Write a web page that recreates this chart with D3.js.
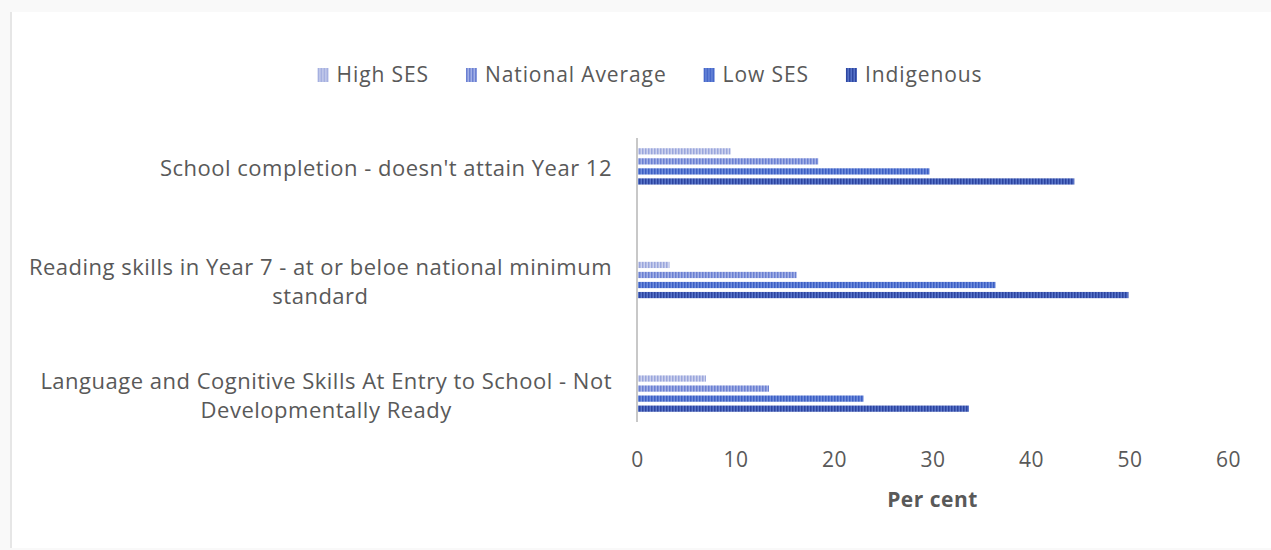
<!DOCTYPE html>
<html>
<head>
<meta charset="utf-8">
<script src="https://cdn.jsdelivr.net/npm/d3@7"></script>
<style>
  html, body { margin: 0; padding: 0; background: #f9f9f9; }
  svg { display: block; }
</style>
</head>
<body>
<script>
const categories = [
  "School completion - doesn't attain Year 12",
  "Reading skills in Year 7 - at or beloe national minimum standard",
  "Language and Cognitive Skills At Entry to School - Not Developmentally Ready"
];
const categoryLines = [
  ["School completion - doesn't attain Year 12"],
  ["Reading skills in Year 7 - at or beloe national minimum", "standard"],
  ["Language and Cognitive Skills At Entry to School - Not", "Developmentally Ready"]
];
const seriesNames = ["High SES", "National Average", "Low SES", "Indigenous"];
const highSES = [9.5, 3.3, 7.0];
const nationalAverage = [18.4, 16.2, 13.4];
const lowSES = [29.7, 36.4, 23.0];
const indigenous = [44.4, 49.9, 33.7];
const seriesValues = [highSES, nationalAverage, lowSES, indigenous];
const xTicks = [0, 10, 20, 30, 40, 50, 60];
const xTitle = "Per cent";

const W = 1271, H = 550;
const bgColors = ["#cdd2ee", "#a3b1e6", "#6f8ddc", "#5874c8"];
const stripeColors = ["#9aa6dc", "#6b80d2", "#3d5fc4", "#2c44a0"];
const font = "'Open Sans', sans-serif";

const svg = d3.select("body").append("svg").attr("width", W).attr("height", H);

// chart panel
svg.append("rect").attr("x", 10).attr("y", 12).attr("width", W - 10).attr("height", 536).attr("fill", "#ffffff");
svg.append("line").attr("x1", 11).attr("x2", 11).attr("y1", 12).attr("y2", 548).attr("stroke", "#e6e6e6").attr("stroke-width", 2);

const defs = svg.append("defs");
seriesNames.forEach((s, i) => {
  const p = defs.append("pattern").attr("id", "pat" + i).attr("patternUnits", "userSpaceOnUse")
    .attr("width", 3).attr("height", 3);
  p.append("rect").attr("width", 3).attr("height", 3).attr("fill", bgColors[i]);
  p.append("rect").attr("x", 0).attr("width", 1.5).attr("height", 3).attr("fill", stripeColors[i]);
});

const x = d3.scaleLinear().domain([0, 60]).range([637, 1228]);
const y = d3.scaleBand().domain(categories).range([138, 422]).paddingInner(0.68).paddingOuter(0.09);
const yInner = d3.scaleBand().domain(seriesNames).range([0, y.bandwidth()]).paddingInner(0.38).paddingOuter(0);

// bars
const groups = svg.append("g").selectAll("g").data(categories).join("g")
  .attr("transform", d => `translate(0,${y(d)})`);
groups.each(function(cat, ci) {
  d3.select(this).selectAll("rect").data(seriesNames).join("rect")
    .attr("x", x(0) + 1)
    .attr("y", s => yInner(s))
    .attr("height", yInner.bandwidth())
    .attr("width", (s, si) => x(seriesValues[si][ci]) - x(0) - 1)
    .attr("fill", (s, si) => `url(#pat${si})`);
});

// category axis line
svg.append("line").attr("x1", x(0)).attr("x2", x(0)).attr("y1", 138).attr("y2", 422)
  .attr("stroke", "#c8c8c8").attr("stroke-width", 2);

// category labels
categories.forEach((c, ci) => {
  const lines = categoryLines[ci];
  const cy = y(c) + y.bandwidth() / 2 + 2;
  const lh = 29;
  const g = svg.append("g");
  const texts = lines.map((l, li) => g.append("text")
    .attr("y", cy + (li - (lines.length - 1) / 2) * lh)
    .attr("dy", "0.35em")
    .attr("font-family", font).attr("font-size", 22).attr("letter-spacing", 0.5).attr("fill", "#595959")
    .text(l));
  const widths = texts.map(t => t.node().getComputedTextLength());
  const maxW = d3.max(widths);
  const right = 612;
  texts.forEach((t, i) => t.attr("x", right - maxW / 2).attr("text-anchor", "middle"));
});

// value axis
const xAxis = d3.axisBottom(x).tickValues(xTicks).tickSize(0).tickPadding(0);
const ax = svg.append("g").attr("transform", "translate(0,460)").call(xAxis);
ax.select(".domain").remove();
ax.selectAll("text").attr("font-family", font).attr("font-size", 21).attr("letter-spacing", 0.5)
  .attr("fill", "#595959").attr("dy", "0.35em").attr("y", 0);

svg.append("text").attr("x", (x(0) + x(60)) / 2).attr("y", 500).attr("dy", "0.35em")
  .attr("text-anchor", "middle").attr("font-family", font).attr("font-size", 21).attr("letter-spacing", 0.5)
  .attr("font-weight", "bold").attr("fill", "#595959").text(xTitle);

// legend
const legend = svg.append("g");
let lx = 0;
const gap = 37;
seriesNames.forEach((s, i) => {
  const g = legend.append("g");
  g.append("rect").attr("x", 0).attr("y", -7).attr("width", 11).attr("height", 14).attr("fill", `url(#pat${i})`);
  const t = g.append("text").attr("x", 19).attr("y", 0).attr("dy", "0.35em")
    .attr("font-family", font).attr("font-size", 21).attr("letter-spacing", 0.9)
    .attr("fill", "#595959").text(s);
  const w = 19 + t.node().getComputedTextLength();
  g.attr("transform", `translate(${lx},75)`);
  lx += w + gap;
});
const totalW = lx - gap;
legend.attr("transform", `translate(${650 - totalW / 2},0)`);
</script>
</body>
</html>
